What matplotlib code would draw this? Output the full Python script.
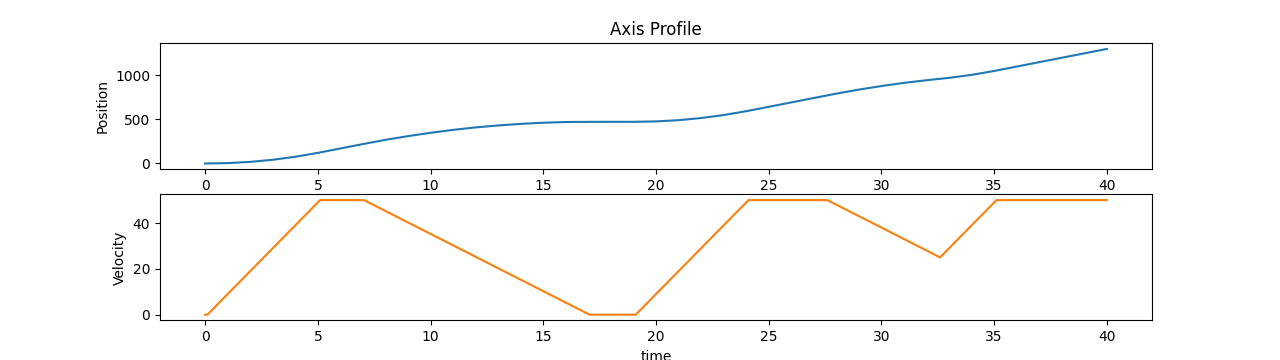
import matplotlib
matplotlib.use("Agg")
import matplotlib.pyplot as plt

# Velocity profile breakpoints (time, velocity)
vel_time = [0, 0.1, 5.1, 7.05, 17.05, 19.1, 24.1, 27.6, 32.6, 35.1, 40]
vel_values = [0, 0, 50, 50, 0, 0, 50, 50, 25, 50, 50]

# Position read at 1 s intervals
pos_time = list(range(0, 41))
pos_values = [0, 4, 18, 42, 76, 120, 170, 220, 268, 310, 348,
              381, 409, 431, 449, 462, 470, 472, 472.5, 472.5, 477,
              491, 515, 549, 593, 642.5, 692.5, 742.5, 792, 838, 878,
              914, 944, 971, 1005, 1049, 1099, 1149, 1199, 1249, 1299]

fig, (ax1, ax2) = plt.subplots(2, 1, figsize=(12.8, 3.6), dpi=100)
ax1.plot(pos_time, pos_values, color="C0")
ax1.set_title("Axis Profile")
ax1.set_ylabel("Position")

ax2.plot(vel_time, vel_values, color="C1")
ax2.set_ylabel("Velocity")
ax2.set_xlabel("time")

fig.savefig("out.png", dpi=100)
